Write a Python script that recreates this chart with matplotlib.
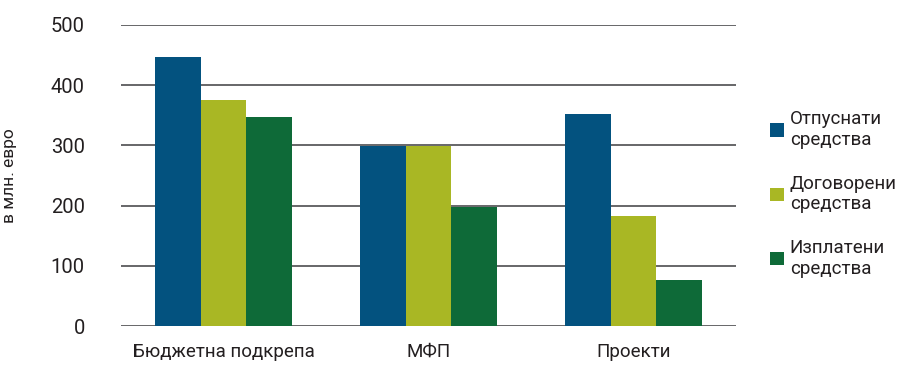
import matplotlib
matplotlib.use("Agg")
import matplotlib.pyplot as plt
import numpy as np
from matplotlib.patches import Patch

categories = ["Бюджетна подкрепа", "МФП", "Проекти"]
series_names = ["Отпуснати\nсредства", "Договорени\nсредства", "Изплатени\nсредства"]
released = [447, 299, 352]
contracted = [375, 299, 182]
paid = [347, 198, 77]
yticks = [0, 100, 200, 300, 400, 500]
colors = ["#03527f", "#a9b724", "#0e6a38"]

plt.rcParams['font.family'] = ['Roboto', 'DejaVu Sans']
txt = "#231f20"

fig = plt.figure(figsize=(8.98, 3.65), dpi=100)
ax = fig.add_axes([121/898, 1-326/365, (736-121)/898, (326-25)/365])

x = np.arange(len(categories))
w = 0.222
for i, (vals, c) in enumerate(zip([released, contracted, paid], colors)):
    ax.bar(x + (i-1)*w, vals, width=w, color=c, zorder=3, linewidth=0)

ax.set_xlim(-0.5, 2.5)
ax.set_ylim(0, 500)
ax.set_yticks(yticks)
ax.set_yticklabels([str(v) for v in yticks])
ax.set_xticks(x)
ax.set_xticklabels(categories)
for y in yticks:
    ax.axhline(y, color="#4d4d4f", lw=1.2, zorder=1)
for s in ax.spines.values():
    s.set_visible(False)
ax.tick_params(axis='both', length=0, colors=txt)
ax.tick_params(axis='y', pad=26, labelsize=14.5)
ax.tick_params(axis='x', pad=12, labelsize=13.5)
ax.set_ylabel("в млн. евро", fontsize=12.5, color=txt)
ax.yaxis.set_label_coords(-(121-17)/615, 0.5)

handles = [Patch(facecolor=c, edgecolor='none') for c in colors]
fig.legend(handles, series_names, loc='center left', bbox_to_anchor=(770/898, 1-194/365),
           frameon=False, fontsize=13.5, handlelength=0.75, handleheight=0.75,
           handletextpad=0.3, labelspacing=1.35, labelcolor=txt, borderaxespad=0, borderpad=0)

fig.savefig("out.png", dpi=100)
